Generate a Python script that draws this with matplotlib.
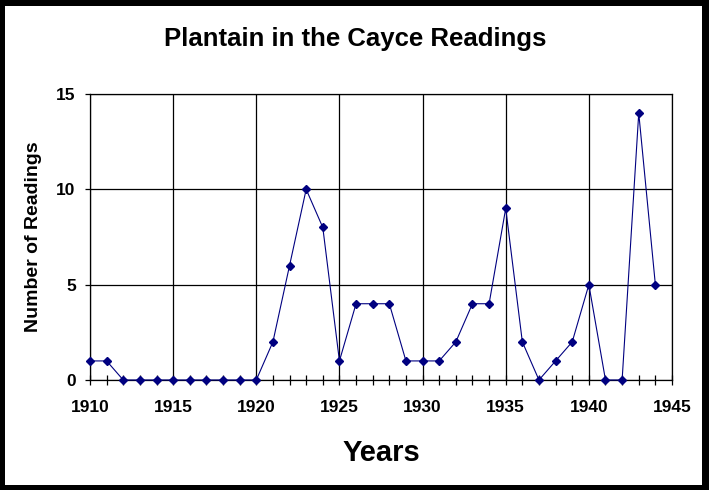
import numpy as np
import matplotlib.pyplot as plt
from matplotlib.patches import Rectangle
from matplotlib.ticker import MultipleLocator

# Plantain in the Cayce Readings - antal per år
years = list(range(1910, 1945))
readings = [1, 1, 0, 0, 0, 0, 0, 0, 0, 0,
            0, 2, 6, 10, 8, 1, 4, 4, 4, 1,
            1, 1, 2, 4, 4, 9, 2, 0, 1, 2,
            5, 0, 0, 14, 5]

plt.rcParams['font.family'] = ['Liberation Sans', 'DejaVu Sans']
plt.rcParams['font.weight'] = 'bold'

fig = plt.figure(figsize=(7.09, 4.90), dpi=100)
ax = fig.add_axes([90/709, 1-380/490, (672-90)/709, (380-94)/490])

ax.plot(years, readings, color='#000080', lw=0.8, marker='D', ms=4.5,
        mfc='#000080', mec='#000080', clip_on=False, zorder=3)

ax.set_xlim(1910, 1945)
ax.set_ylim(0, 15)
ax.xaxis.set_major_locator(MultipleLocator(5))
ax.xaxis.set_minor_locator(MultipleLocator(1))
ax.yaxis.set_major_locator(MultipleLocator(5))
ax.grid(True, which='major', color='black', lw=0.9)
for s in ax.spines.values():
    s.set_color('black')
    s.set_linewidth(0.9)

ax.tick_params(axis='x', which='both', direction='inout', length=7.5,
               width=0.9, labelsize=12.5, pad=11)
ax.tick_params(axis='y', which='major', direction='out', length=3.8,
               width=0.9, labelsize=12.5, pad=6.5)
for lab in ax.get_xticklabels() + ax.get_yticklabels():
    lab.set_fontweight('bold')

ax.set_ylabel('Number of Readings', fontsize=14, fontweight='bold', labelpad=10)
ax.set_xlabel('Years', fontsize=21, fontweight='bold', labelpad=17)
fig.text(355/709, 1-39/490, 'Plantain in the Cayce Readings', fontsize=18.5,
         fontweight='bold', ha='center', va='center')

# svart ram runt hela bilden
W, H = 709, 490
for x0, y0, w, h in [(0, 0, 5, H), (W-7, 0, 7, H), (0, 0, W, 5), (0, H-6, W, 6)]:
    fig.add_artist(Rectangle((x0/W, y0/H), w/W, h/H, transform=fig.transFigure,
                             color='black', lw=0, zorder=10))

fig.savefig('out.png', dpi=100)
